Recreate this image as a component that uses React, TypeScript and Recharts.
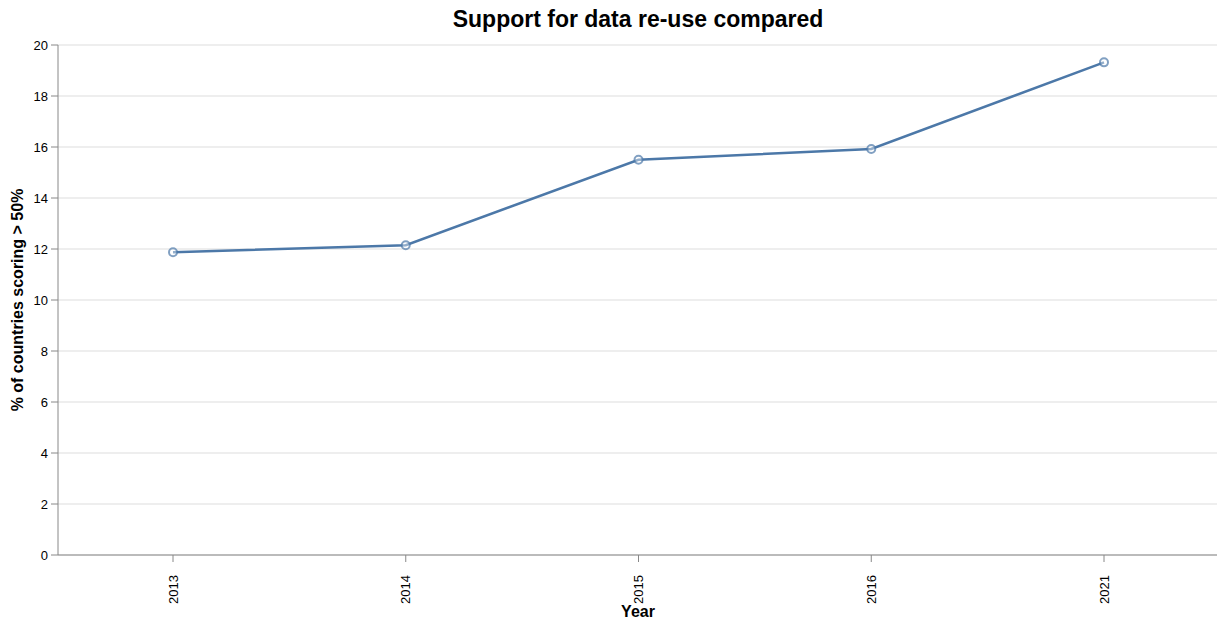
import React from "react";
import { LineChart, Line, XAxis, YAxis, CartesianGrid } from "recharts";

const years = ["2013", "2014", "2015", "2016", "2021"];
const shares = [11.87, 12.15, 15.5, 15.92, 19.32];
const yTicks = [0, 2, 4, 6, 8, 10, 12, 14, 16, 18, 20];

const title = "Support for data re-use compared";
const xTitle = "Year";
const yTitle = "% of countries scoring > 50%";

const data = years.map((y, i) => ({ year: y, value: shares[i] }));

const FONT = "'Liberation Sans', Arial, Helvetica, sans-serif";
const BLUE = "#4c78a8";

const XTick = (props: any) => {
  const { x, y, payload } = props;
  return (
    <g transform={`translate(${x},${y})`}>
      <text
        transform="rotate(-90)"
        x={-11}
        y={0}
        dy={4.5}
        textAnchor="end"
        fontSize={13}
        fontFamily={FONT}
        fill="#000"
      >
        {payload.value}
      </text>
    </g>
  );
};

const YTick = (props: any) => {
  const { x, y, payload } = props;
  return (
    <text
      x={x}
      y={y}
      dy={4.5}
      textAnchor="end"
      fontSize={13}
      fontFamily={FONT}
      fill="#000"
    >
      {payload.value}
    </text>
  );
};

export default function App() {
  return (
    <div
      style={{
        position: "absolute",
        left: 0,
        top: 0,
        width: 1217,
        height: 621,
        overflow: "hidden",
        background: "#fff",
      }}
    >
      <LineChart
        width={1222}
        height={621}
        data={data}
        margin={{ top: 45, right: 0, bottom: 0, left: 0 }}
      >
        <CartesianGrid vertical={false} stroke="#ddd" strokeWidth={1} />
        <XAxis
          dataKey="year"
          type="category"
          height={66}
          padding={{ left: 115, right: 118 }}
          stroke="#888"
          tickLine={{ stroke: "#888" }}
          tickSize={7}
          tick={<XTick />}
          interval={0}
        />
        <YAxis
          width={58}
          domain={[0, 20]}
          ticks={yTicks}
          type="number"
          stroke="#888"
          tickLine={{ stroke: "#888" }}
          tickSize={7}
          tickMargin={3}
          tick={<YTick />}
          interval={0}
        />
        <Line
          dataKey="value"
          stroke={BLUE}
          strokeWidth={2.5}
          isAnimationActive={false}
          dot={{ r: 4, stroke: BLUE, strokeOpacity: 0.7, strokeWidth: 2, fill: "#fff", fillOpacity: 0.4 }}
          activeDot={false}
        />
      </LineChart>
      <svg
        width={1217}
        height={621}
        style={{ position: "absolute", left: 0, top: 0, pointerEvents: "none" }}
      >
        <text
          x={638}
          y={27}
          textAnchor="middle"
          fontSize={23}
          fontWeight="bold"
          fontFamily={FONT}
          fill="#000"
        >
          {title}
        </text>
        <text
          x={638}
          y={617}
          textAnchor="middle"
          fontSize={16}
          fontWeight="bold"
          fontFamily={FONT}
          fill="#000"
        >
          {xTitle}
        </text>
        <text
          transform="translate(23,300) rotate(-90)"
          textAnchor="middle"
          fontSize={16}
          fontWeight="bold"
          fontFamily={FONT}
          fill="#000"
        >
          {yTitle}
        </text>
      </svg>
    </div>
  );
}
